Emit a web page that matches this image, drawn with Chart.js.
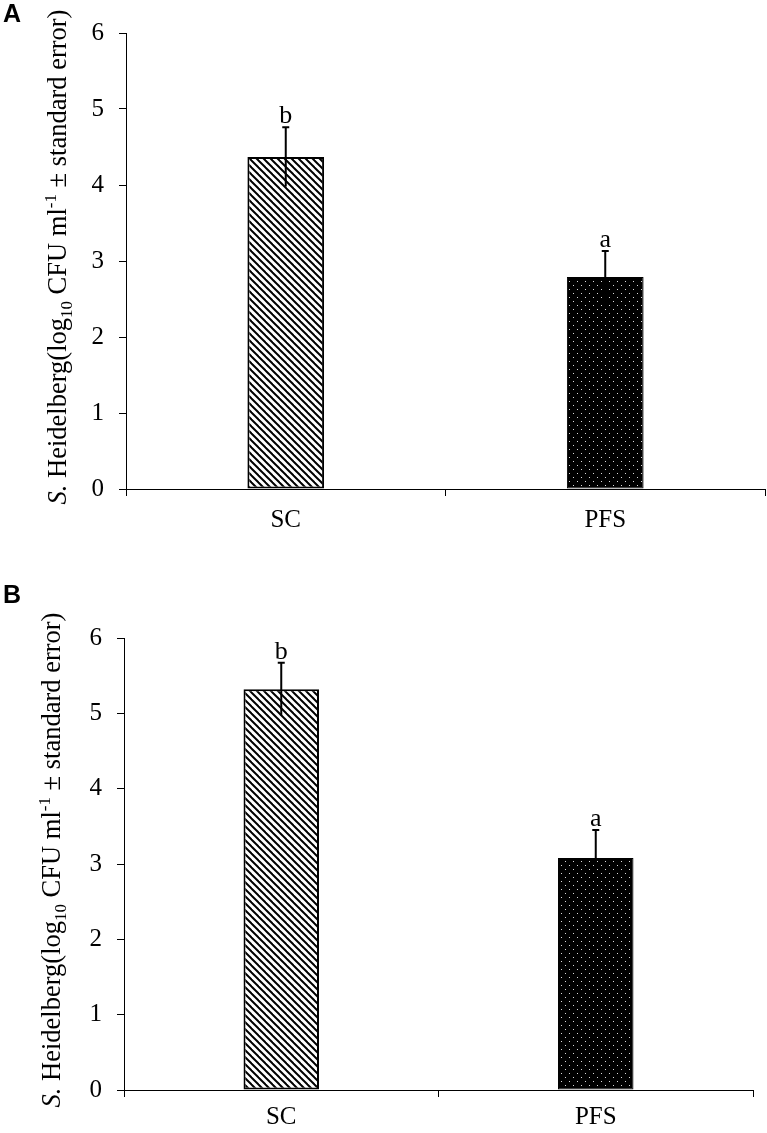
<!DOCTYPE html>
<html>
<head>
<meta charset="utf-8">
<script src="https://cdn.jsdelivr.net/npm/chart.js@4.4.1/dist/chart.umd.min.js"></script>
<style>
  body { margin: 0; background: #fff; }
  .panel { position: absolute; left: 0; width: 767px; }
</style>
</head>
<body>
<div class="panel" style="top:0;height:560px"><canvas id="chartA" width="767" height="560"></canvas></div>
<div class="panel" style="top:560px;height:573px"><canvas id="chartB" width="767" height="573"></canvas></div>
<script>
// data
const categories = ["SC", "PFS"];
const valuesA = [4.37, 2.79];
const errorsA = [0.39, 0.34];
const valuesB = [5.32, 3.08];
const errorsB = [0.35, 0.37];
const letters = ["b", "a"];
const yMin = 0;
const yMax = 6;
const yStep = 1;

const serif = '"Liberation Serif", "Times New Roman", serif';

// diagonal hatch for SC
function makeHatch() {
  const c = document.createElement("canvas");
  c.width = 7; c.height = 7;
  const g = c.getContext("2d");
  g.fillStyle = "#fff";
  g.fillRect(0, 0, 7, 7);
  g.strokeStyle = "#000";
  g.lineWidth = 2;
  [-7, 0, 7].forEach((o) => {
    g.beginPath();
    g.moveTo(o - 1, -1);
    g.lineTo(o + 8, 8);
    g.stroke();
  });
  return g.createPattern(c, "repeat");
}

// black with white dots for PFS
function makeDots() {
  const c = document.createElement("canvas");
  c.width = 8; c.height = 8;
  const g = c.getContext("2d");
  g.fillStyle = "#000";
  g.fillRect(0, 0, 8, 8);
  g.fillStyle = "rgba(255,255,255,0.85)";
  g.fillRect(1, 1, 1, 1);
  g.fillRect(5, 5, 1, 1);
  return g.createPattern(c, "repeat");
}

const extrasPlugin = {
  id: "extras",
  afterDraw(chart, args, opts) {
    const ctx = chart.ctx;
    const xs = chart.scales.x;
    const ys = chart.scales.y;
    const vals = chart.data.datasets[0].data;

    // error bars + significance letters
    ctx.save();
    ctx.strokeStyle = "#000";
    ctx.lineWidth = 2;
    ctx.fillStyle = "#000";
    ctx.font = "26px " + serif;
    ctx.textAlign = "center";
    ctx.textBaseline = "alphabetic";
    vals.forEach((v, i) => {
      const x = xs.getPixelForValue(i);
      const top = ys.getPixelForValue(v + opts.errors[i]);
      const bot = ys.getPixelForValue(v - opts.errors[i]);
      ctx.beginPath();
      ctx.moveTo(x, bot);
      ctx.lineTo(x, top);
      ctx.moveTo(x - 3.5, top);
      ctx.lineTo(x + 3.5, top);
      ctx.stroke();
      ctx.fillText(letters[i], x, top - 4);
    });
    ctx.restore();

    // rotated y axis title with italic S., subscript and superscript
    const fs = 26.5;
    const small = 17;
    const parts = [
      { t: "S.", f: "italic " + fs + "px " + serif, dy: 0 },
      { t: " Heidelberg(log", f: fs + "px " + serif, dy: 0 },
      { t: "10", f: small + "px " + serif, dy: 6 },
      { t: " CFU ml", f: fs + "px " + serif, dy: 0 },
      { t: "-1", f: small + "px " + serif, dy: -10 },
      { t: " \u00b1 standard error)", f: fs + "px " + serif, dy: 0 },
    ];
    ctx.save();
    let total = 0;
    parts.forEach((p) => { ctx.font = p.f; p.w = ctx.measureText(p.t).width; total += p.w; });
    const cy = (chart.chartArea.top + chart.chartArea.bottom) / 2 + opts.titleShift;
    ctx.translate(opts.titleX, cy);
    ctx.rotate(-Math.PI / 2);
    ctx.fillStyle = "#000";
    ctx.textAlign = "left";
    ctx.textBaseline = "alphabetic";
    let pos = -total / 2;
    parts.forEach((p) => {
      ctx.font = p.f;
      ctx.fillText(p.t, pos, p.dy);
      pos += p.w;
    });
    ctx.restore();

    // panel letter
    ctx.save();
    ctx.fillStyle = "#000";
    ctx.font = 'bold 25px "Liberation Sans", Arial, sans-serif';
    ctx.textAlign = "left";
    ctx.textBaseline = "alphabetic";
    ctx.fillText(opts.panel, 3, opts.panelY);
    ctx.restore();
  },
};

function makeChart(id, values, errors, cfg) {
  const ctx = document.getElementById(id).getContext("2d");
  return new Chart(ctx, {
    type: "bar",
    data: {
      labels: categories,
      datasets: [
        {
          data: values,
          backgroundColor: [makeHatch(), makeDots()],
          borderColor: "#000",
          borderWidth: [2, 1],
          borderSkipped: false,
          barPercentage: 0.24,
          categoryPercentage: 1,
        },
      ],
    },
    options: {
      responsive: false,
      animation: false,
      layout: { padding: { top: cfg.top, right: cfg.right, left: 0, bottom: 0 } },
      plugins: {
        legend: { display: false },
        tooltip: { enabled: false },
        extras: {
          errors: errors,
          panel: cfg.panel,
          panelY: cfg.panelY,
          titleX: cfg.titleX,
          titleShift: -4,
        },
      },
      scales: {
        x: {
          grid: { display: true, drawOnChartArea: false, drawTicks: true, tickLength: 7, color: "#000", offset: true },
          border: { display: true, color: "#000", width: 1 },
          ticks: { color: "#000", font: { family: serif, size: 25 }, padding: cfg.xPad, maxRotation: 0 },
          afterFit: (s) => { s.height = cfg.xHeight; },
        },
        y: {
          min: yMin,
          max: yMax,
          grid: { display: true, drawOnChartArea: false, drawTicks: true, tickLength: 7, color: "#000" },
          border: { display: true, color: "#000", width: 1 },
          ticks: { stepSize: yStep, color: "#000", font: { family: serif, size: 25 }, padding: 15 },
          afterFit: (s) => { s.width = cfg.yWidth; },
        },
      },
    },
    plugins: [extrasPlugin],
  });
}

makeChart("chartA", valuesA, errorsA, {
  panel: "A", panelY: 22, top: 33, right: 2, yWidth: 126, xHeight: 71, xPad: 9, titleX: 66,
});
makeChart("chartB", valuesB, errorsB, {
  panel: "B", panelY: 43, top: 78, right: 14, yWidth: 124, xHeight: 43, xPad: 5, titleX: 60,
});
</script>
</body>
</html>
